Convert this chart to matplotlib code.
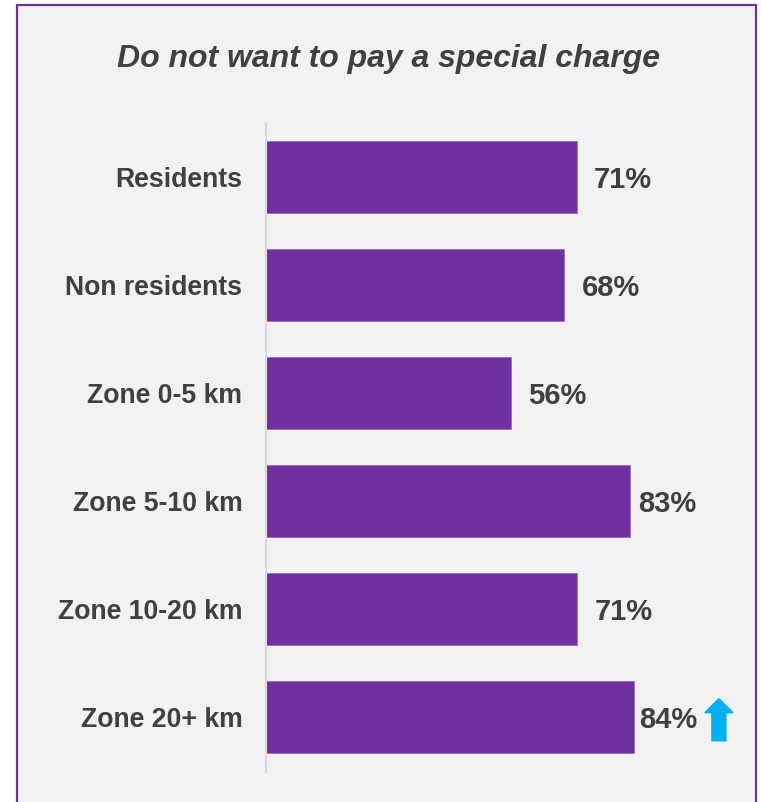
import matplotlib
matplotlib.use("Agg")
import matplotlib.pyplot as plt
import matplotlib.patches as mpatches
import numpy as np

# data
categories = ["Residents", "Non residents", "Zone 0-5 km", "Zone 5-10 km",
              "Zone 10-20 km", "Zone 20+ km"]
values = [71, 68, 56, 83, 71, 84]
value_labels = ["71%", "68%", "56%", "83%", "71%", "84%"]
title = "Do not want to pay a special charge"
arrow_category = "Zone 20+ km"

# styling
bar_color = "#7030A0"
text_color = "#404040"
label_pad = [12, 13, 12, 6, 13, 4]   # gap bar end -> value label, in points

plt.rcParams['font.family'] = ['Liberation Sans', 'DejaVu Sans']

W, H = 761, 802
fig = plt.figure(figsize=(W / 100, H / 100), dpi=100)
fig.patch.set_facecolor("white")

# panel with purple frame
panel = mpatches.Rectangle((17 / W, -0.05), (756 - 17) / W, 1 - 5 / H + 0.05,
                           transform=fig.transFigure, facecolor="#F2F2F2",
                           edgecolor=bar_color, linewidth=1.6, zorder=-10)
fig.patches.append(panel)

fig.text(389 / W, 1 - 59 / H, title, ha="center", va="center",
         fontsize=23, fontweight="bold", fontstyle="italic", color=text_color)

ax = fig.add_axes([266 / W, 1 - 771 / H, (704 - 266) / W, (771 - 123) / H])
ax.set_facecolor("none")
ax.set_zorder(5)

y = np.arange(len(categories))
ax.barh(y, values, height=0.667, color=bar_color, edgecolor="#9A6CC0",
        linewidth=0.6, zorder=2)

for i, (v, lab) in enumerate(zip(values, value_labels)):
    ax.annotate(lab, xy=(v, i), xytext=(label_pad[i], -2), textcoords="offset points",
                ha="left", va="center", fontsize=21, fontweight="bold",
                color=text_color, annotation_clip=False)

# blue up arrow next to the flagged category
k = categories.index(arrow_category)
ax_x = values[k] + 19.4
arrow = mpatches.FancyArrow(ax_x, k + 0.22, 0, -0.39, width=3.2, head_width=6.4,
                            head_length=0.13, length_includes_head=True,
                            color="#00B0F0", clip_on=False, zorder=3)
ax.add_patch(arrow)

ax.set_xlim(0, 100)
ax.set_ylim(len(categories) - 0.5, -0.5)
ax.set_yticks(y)
ax.set_yticklabels(categories, fontsize=19.2, fontweight="bold", color=text_color)
ax.tick_params(axis="y", length=0, pad=17)
ax.set_xticks([])
for s in ["top", "right", "bottom"]:
    ax.spines[s].set_visible(False)
ax.spines["left"].set_color("#D9D9D9")
ax.spines["left"].set_linewidth(1.5)
ax.spines["left"].set_bounds(-0.5, 5.51)

fig.savefig("out.png", dpi=100)
